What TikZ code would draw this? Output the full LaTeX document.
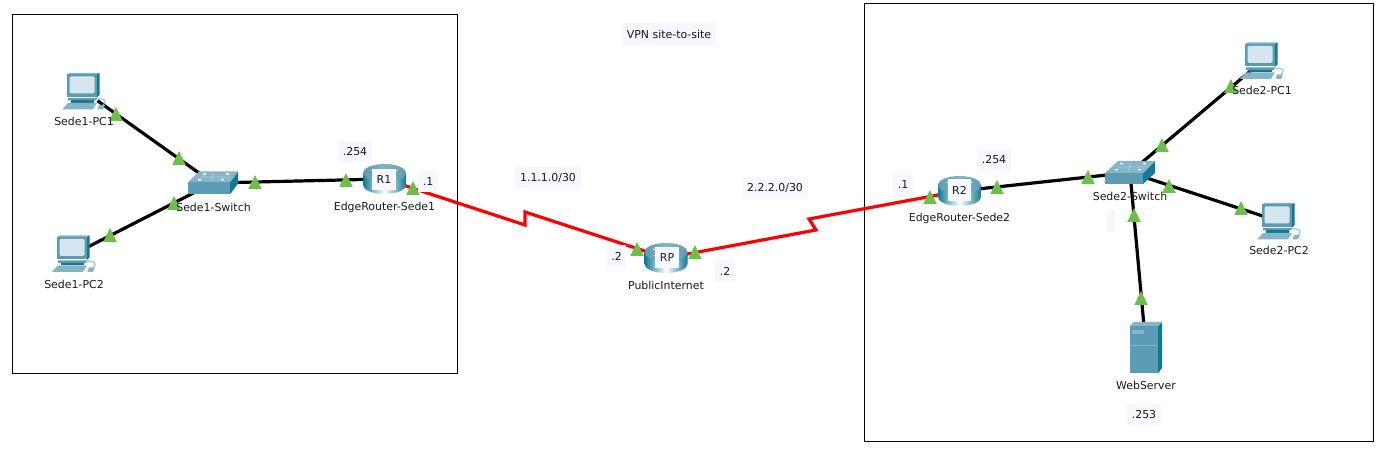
\documentclass[tikz,border=0pt]{standalone}
\usepackage{fontspec}
\setmainfont{DejaVu Sans}
\definecolor{noteback}{HTML}{F6F7FF}
\definecolor{portgreen}{HTML}{6EBE4A}
\definecolor{devfront}{HTML}{5B9BB3}
\definecolor{devtop}{HTML}{85B5C6}
\definecolor{devside}{HTML}{0F7A92}
\definecolor{devscreen}{HTML}{D6E6EE}
\tikzset{
  every pic/.style={yscale=-1},
  devbox/.style={inner sep=0pt,minimum width=19.5pt,minimum height=13.5pt},
  devlabel/.style={inner sep=0pt,font=\fontsize{8.2}{10}\selectfont,text=black!90},
  notelabel/.style={devlabel,fill=noteback,inner xsep=3.5pt,minimum height=16pt},
  framebox/.style={draw=black,line width=0.6pt},
  lanlink/.style={draw=black,line width=2.4pt},
  wanlink/.style={draw=red,line width=2.4pt},
  porttri/.pic={\fill[portgreen] (-6.8,7) -- (0,-7) -- (6.8,7) -- cycle;},
  pcicon/.pic={
    \begin{scope}[shift={(-22.5,-18.5)}]
    \fill[devside] (34.5,1.5) -- (37.5,0) -- (37.5,22) -- (34.5,25) -- cycle;
    \fill[devtop] (5.3,1.5) -- (8,0) -- (37.5,0) -- (34.5,1.5) -- cycle;
    \fill[devfront] (5.3,1.5) rectangle (34.5,24);
    \fill[devscreen,rounded corners=1pt] (7.5,3.5) rectangle (32.5,20.5);
    \fill[devfront] (6,25) -- (35,25) -- (34,27.5) -- (6,27.5) -- cycle;
    \fill[devside] (9,27.5) rectangle (32,30);
    \fill[devtop] (0,36.5) -- (6,30) -- (35,30) -- (31,36.5) -- cycle;
    \draw[devtop,line width=0.7pt] (35,26) .. controls (42,25) and (46,28) .. (41,32);
    \fill[devtop] (37,32) -- (43,32) -- (41,36.5) -- (35.5,36.5) -- cycle;
    \end{scope}
  },
  swicon/.pic={
    \begin{scope}[shift={(-25,-11.5)}]
    \fill[devside] (42,11) -- (50,0) -- (50,12) -- (42,23) -- cycle;
    \fill[devtop] (0,11) -- (11,0) -- (50,0) -- (42,11) -- cycle;
    \fill[devfront] (0,11) rectangle (42,23);
    \draw[white,opacity=0.35,line width=0.5pt] (12,5.5) -- (43,5.5) (26,2) -- (23,9);
    \fill[white] (15,2) rectangle (18,3.5) (38,2) rectangle (41,3.5) (10,7.5) rectangle (13,9) (33,7.5) rectangle (36,9);
    \end{scope}
  },
  swiconB/.pic={
    \begin{scope}[shift={(-25,-11.5)}]
    \fill[devside] (38,12) -- (50,0) -- (50,12) -- (38,23) -- cycle;
    \fill[devtop] (0,12) -- (13,0) -- (50,0) -- (38,12) -- cycle;
    \fill[devfront] (0,12) rectangle (38,23);
    \draw[white,opacity=0.35,line width=0.5pt] (12,6) -- (43,6) (26,2) -- (23,10);
    \fill[white] (15,2) rectangle (18,3.5) (38,2) rectangle (41,3.5) (10,8) rectangle (13,9.5) (33,8) rectangle (36,9.5);
    \end{scope}
  },
  rticon/.pic={
    \shade[left color=devside,right color=devside,middle color=white]
      (-21.5,-6) -- (-21.5,6) arc[start angle=180,end angle=0,x radius=21.5,y radius=9] -- (21.5,-6) -- cycle;
    \shade[left color=devfront,right color=devfront,middle color=devtop]
      (0,-6) ellipse [x radius=21.5,y radius=9];
    \draw[white,opacity=0.7,line width=0.8pt] (-13,-9) -- (-3,-5) (13,-9) -- (3,-5) (-12,-2) -- (-3,-6) (12,-2) -- (3,-6);
  },
  srvicon/.pic={
    \begin{scope}[shift={(-16,-26)}]
    \fill[devside] (28,4) -- (32,0) -- (32,46) -- (28,51.5) -- cycle;
    \fill[devtop] (0,4) -- (3.5,0) -- (32,0) -- (28,4) -- cycle;
    \fill[devfront] (0,4) rectangle (28,51.5);
    \fill[devtop] (2,8) rectangle (14,12.5);
    \draw[devtop,line width=0.5pt] (0,23) -- (28,23);
    \end{scope}
  },
}

\begin{document}
\begin{tikzpicture}[x=0.75pt,y=0.75pt,yscale=-1,xscale=1]
\useasboundingbox (0,0) rectangle (1390,459);

%Site frames
\draw[framebox] (12,14) rectangle (457,373);
\draw[framebox] (864,3) rectangle (1373,441);

%Devices
\node (pcA) [devbox] at (84.5,91.5) {};
\node (pcB) [devbox] at (74.5,253.8) {};
\node (swA) [devbox] at (213,183) {};
\node (rtA) [devbox] at (384.5,179) {};
\node (rtP) [devbox] at (666,258) {};
\node (rtB) [devbox] at (959.5,191) {};
\node (swB) [devbox] at (1130,172.5) {};
\node (pcC) [devbox] at (1262.5,60.8) {};
\node (pcD) [devbox] at (1279.5,221.5) {};
\node (srv) [devbox] at (1146,348) {};
\coordinate (jogA) at (525,225);
\coordinate (jogB) at (525,212);
\coordinate (jogC) at (816,230);
\coordinate (jogD) at (809,219);

%Links
\draw[lanlink] (pcA) -- (swA);
\draw[lanlink] (pcB) -- (swA);
\draw[lanlink] (swA) -- (rtA);
\draw[lanlink] (rtB) -- (swB);
\draw[lanlink] (swB) -- (pcC);
\draw[lanlink] (swB) -- (pcD);
\draw[lanlink] (swB) -- (srv);
\draw[wanlink] (rtA.center) -- (jogA) -- (jogB) -- (rtP.center);
\draw[wanlink] (rtP.center) -- (jogC) -- (jogD) -- (rtB.center);

%Icons
\pic at (pcA) {pcicon};
\pic at (pcB) {pcicon};
\pic at (pcC) {pcicon};
\pic at (pcD) {pcicon};
\pic at (swA) {swicon};
\pic at (swB) {swiconB};
\pic at (rtA) {rticon};
\pic at (rtP) {rticon};
\pic at (rtB) {rticon};
\pic at (srv) {srvicon};

%Port marks
\foreach \portx/\porty in {116/114,179/158,174/203,110/235,255/182,346/180,413/188,637/249,695/252,930/197,997/187,1088/177,1162/145,1231/86,1169/186,1241/208,1134/215,1141/298}
  \pic at (\portx,\porty) {porttri};

% Text Node
\node (lblPcA) [devlabel] at (84,121.5) {Sede1-PC1};
\node (lblPcB) [devlabel] at (74,284) {Sede1-PC2};
\node (lblSwA) [devlabel] at (213.5,207) {Sede1-Switch};
\node (lblRtA) [devlabel] at (384.5,207) {EdgeRouter-Sede1};
\node (lblRtP) [devlabel] at (666,285.5) {PublicInternet};
\node (lblRtB) [devlabel] at (959.5,218.5) {EdgeRouter-Sede2};
\node (lblSwB) [devlabel] at (1130,196.5) {Sede2-Switch};
\node (lblPcC) [devlabel] at (1262,90.5) {Sede2-PC1};
\node (lblPcD) [devlabel] at (1279,250.5) {Sede2-PC2};
\node (lblSrv) [devlabel] at (1146,385.5) {WebServer};
% Notes
\node (noteVpn) [notelabel] at (669,34) {VPN site-to-site};
\node (noteWanA) [notelabel] at (548,177.5) {1.1.1.0/30};
\node (noteWanB) [notelabel] at (775,187.5) {2.2.2.0/30};
\node (noteGwA) [notelabel] at (355,151.5) {.254};
\node (noteOneA) [notelabel] at (428,181.5) {.1};
\node (noteTwoA) [notelabel] at (616.5,256) {.2};
\node (noteTwoB) [notelabel] at (725,271) {.2};
\node (noteOneB) [notelabel] at (903,184.5) {.1};
\node (noteGwB) [notelabel] at (994,160) {.254};
\node (noteSrv) [notelabel] at (1144,415) {.253};
\node (noteEmpty) [notelabel,minimum width=5.6pt,minimum height=16pt] at (1110.5,221) {};
\node (noteRtA) [notelabel,inner xsep=3.5pt] at (384,179.5) {R1};
\node (noteRtP) [notelabel,inner xsep=3.5pt] at (667,257.5) {RP};
\node (noteRtB) [notelabel,inner xsep=3.5pt] at (959.5,190) {R2};

\end{tikzpicture}
\end{document}
